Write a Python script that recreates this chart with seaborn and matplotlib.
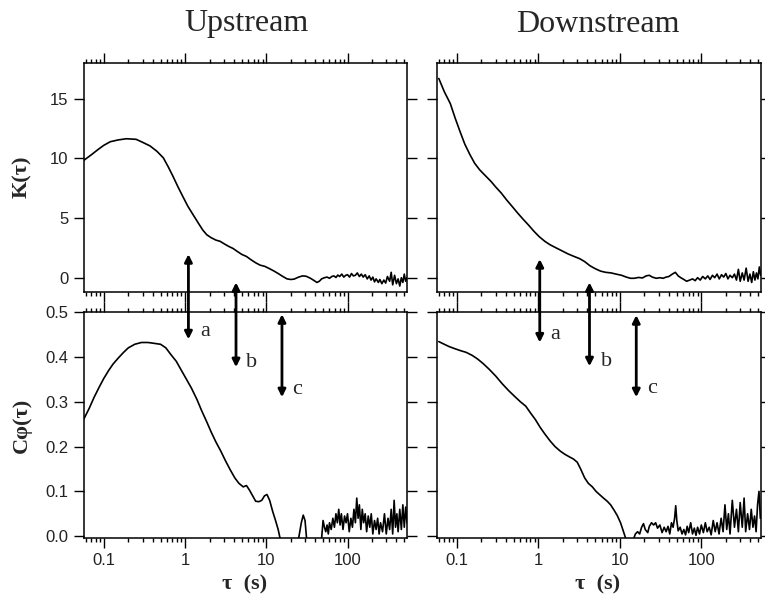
import numpy as np
import pandas as pd
import matplotlib
matplotlib.use("Agg")
import matplotlib.pyplot as plt
import matplotlib.ticker as mticker
import seaborn as sns

# ---------------- data ----------------
tau_K_up = [0.057, 0.07, 0.085, 0.10, 0.12, 0.15, 0.19, 0.25, 0.30, 0.37, 0.45, 0.54, 0.62, 0.71,
            0.82, 0.94, 1.08, 1.25, 1.45, 1.65, 1.85, 2.1, 2.4, 2.7, 3.1, 3.5, 3.9, 4.4, 5.0, 5.7,
            6.5, 7.4, 8.4, 9.6, 11, 12.5, 14, 16, 18, 20, 22, 25, 28, 31, 35, 39, 42, 45, 48, 52,
            56, 60, 64, 68, 72, 76, 80, 85, 90, 95, 100, 106, 112, 118, 125, 132, 140, 148, 156,
            165, 175, 185, 195, 205, 215, 225, 240, 250, 265, 280, 295, 310, 330, 345, 360, 380,
            400, 420, 440, 460, 480, 500, 520, 540]
K_up = [9.85, 10.3, 10.75, 11.1, 11.4, 11.55, 11.65, 11.6, 11.35, 11.05, 10.6, 10.05, 9.3, 8.5,
        7.6, 6.8, 6.0, 5.3, 4.6, 4.0, 3.6, 3.35, 3.15, 3.05, 2.8, 2.6, 2.45, 2.2, 1.95, 1.78,
        1.5, 1.25, 1.05, 0.95, 0.75, 0.55, 0.35, 0.1, -0.1, -0.15, -0.12, 0.05, 0.15, 0.12, -0.05,
        -0.25, -0.4, -0.3, -0.1, 0.0, 0.05, -0.05, 0.1, 0.15, 0.02, 0.22, 0.1, 0.3, 0.05, 0.2,
        0.25, 0.05, 0.35, 0.15, 0.2, 0.4, 0.1, 0.3, 0.05, 0.25, -0.1, 0.15, -0.2, 0.05, -0.35,
        -0.1, -0.4, -0.15, -0.5, -0.2, -0.45, 0.1, -0.3, 0.45, -0.6, 0.2, -0.5, -0.1, -0.7, 0.0,
        -0.4, 0.3, -0.3, 0.0]

tau_K_down = [0.060, 0.07, 0.083, 0.095, 0.11, 0.125, 0.145, 0.165, 0.19, 0.22, 0.26, 0.30, 0.35,
              0.41, 0.48, 0.56, 0.65, 0.76, 0.88, 1.02, 1.2, 1.4, 1.65, 1.95, 2.3, 2.7, 3.2, 3.7,
              4.3, 5.0, 5.8, 6.7, 7.8, 9.0, 10.5, 12, 13.5, 15, 17, 19, 21, 23, 25, 28, 31, 34, 37,
              40, 44, 48, 52, 56, 61, 66, 72, 78, 84, 90, 97, 104, 112, 120, 128, 137, 146, 156,
              166, 177, 188, 200, 212, 225, 240, 255, 270, 285, 300, 318, 335, 355, 375, 395, 415,
              435, 455, 475, 495, 515, 535]
K_down = [16.7, 15.6, 14.6, 13.4, 12.2, 11.2, 10.3, 9.6, 9.05, 8.6, 8.1, 7.6, 7.1,
          6.5, 5.95, 5.4, 4.9, 4.4, 3.9, 3.45, 3.05, 2.75, 2.5, 2.25, 2.0, 1.8, 1.6, 1.35,
          1.0, 0.75, 0.55, 0.45, 0.4, 0.3, 0.2, 0.05, -0.05, -0.05, 0.02, -0.02, 0.15, 0.2, 0.05,
          -0.05, 0.0, -0.05, 0.05, 0.1, 0.3, 0.45, 0.15, 0.0, -0.15, -0.3, -0.2, -0.1, -0.25, 0.0,
          -0.2, 0.1, -0.1, 0.15, -0.15, 0.2, 0.0, 0.3, -0.1, 0.25, 0.05, 0.35, -0.1, 0.2, 0.0,
          0.3, -0.2, 0.7, -0.3, 0.4, -0.2, 0.8, -0.3, 0.3, -0.4, 0.5, -0.2, 0.4, -0.1, 0.9, 0.2]

tau_C_up = [0.057, 0.066, 0.076, 0.088, 0.10, 0.115, 0.13, 0.15, 0.175, 0.20, 0.24, 0.29, 0.35,
            0.42, 0.50, 0.58, 0.67, 0.78, 0.9, 1.04, 1.2, 1.4, 1.6, 1.85, 2.1, 2.4, 2.75, 3.15,
            3.6, 4.1, 4.6, 5.2, 5.7, 6.2, 6.8, 7.4, 8.1, 8.8, 9.5, 10.2, 11, 12, 13, 14, 15, 18,
            22, 25, 27, 28.5, 30, 31.5, 35, 42, 48, 50, 52, 54, 56, 58, 60, 63, 66, 69, 72, 75,
            78, 81, 84, 88, 92, 96, 100, 105, 110, 115, 120, 125, 130, 135, 140, 146, 152, 158,
            165, 172, 180, 188, 196, 205, 215, 225, 235, 245, 255, 270, 285, 300, 315, 330, 345,
            360, 375, 390, 405, 420, 440, 460, 480, 500, 520, 540]
C_up = [0.262, 0.285, 0.31, 0.333, 0.352, 0.37, 0.384, 0.397, 0.41, 0.42, 0.428, 0.432, 0.432,
        0.43, 0.428, 0.42, 0.405, 0.39, 0.37, 0.35, 0.33, 0.305, 0.28, 0.255, 0.232, 0.21, 0.19,
        0.168, 0.148, 0.13, 0.118, 0.11, 0.113, 0.103, 0.09, 0.078, 0.077, 0.08, 0.09, 0.093,
        0.08, 0.055, 0.035, 0.015, -0.01, -0.04, -0.03, -0.005, 0.03, 0.047, 0.035, -0.01, -0.04,
        -0.03, -0.005, 0.035, 0.02, 0.01, 0.025, 0.005, 0.03, 0.015, 0.04, 0.02, 0.05, 0.03,
        0.06, 0.025, 0.05, 0.015, 0.045, 0.03, 0.05, 0.01, 0.04, 0.02, 0.06, 0.03, 0.085, 0.04,
        0.07, 0.015, 0.06, 0.03, 0.05, 0.01, 0.045, 0.02, 0.05, 0.005, 0.035, 0.015, 0.04, 0.005,
        0.03, 0.01, 0.05, 0.005, 0.04, 0.015, 0.06, 0.005, 0.08, 0.02, 0.05, 0.01, 0.06, 0.015,
        0.07, 0.02, 0.065, 0.03]

tau_C_down = [0.060, 0.07, 0.08, 0.095, 0.11, 0.13, 0.155, 0.18, 0.21, 0.25, 0.30, 0.36, 0.43,
              0.51, 0.60, 0.70, 0.8, 0.92, 1.05, 1.2, 1.4, 1.6, 1.85, 2.1, 2.4, 2.7, 3.0, 3.3,
              3.7, 4.1, 4.6, 5.1, 5.7, 6.3, 7.0, 7.7, 8.5, 9.3, 10.2, 11.0, 11.8, 13, 14.5, 15.5,
              16.5, 17.5, 18.5, 19.5, 20.5, 22, 23, 24.5, 26, 27.5, 29, 31, 33, 35, 37, 39, 41,
              43, 45, 47, 48.5, 50, 52, 55, 58, 61, 64, 67, 70, 74, 78, 82, 86, 90, 95, 100, 106,
              112, 118, 125, 132, 140, 148, 156, 165, 175, 185, 195, 205, 215, 225, 240, 255,
              270, 285, 300, 318, 335, 350, 370, 390, 410, 430, 450, 470, 490, 510, 530]
C_down = [0.434, 0.428, 0.423, 0.418, 0.414, 0.41, 0.403, 0.395, 0.385, 0.372, 0.357, 0.34, 0.325,
          0.312, 0.3, 0.29, 0.275, 0.26, 0.243, 0.228, 0.212, 0.2, 0.19, 0.183, 0.177, 0.172,
          0.165, 0.15, 0.13, 0.118, 0.11, 0.1, 0.092, 0.085, 0.078, 0.07, 0.058, 0.046, 0.03,
          0.012, -0.005, -0.03, -0.01, 0.005, 0.01, 0.005, 0.02, 0.028, 0.015, 0.008, 0.022,
          0.03, 0.025, 0.03, 0.018, 0.025, 0.008, 0.02, 0.01, 0.022, 0.005, 0.03, 0.02, 0.04,
          0.068, 0.035, 0.012, 0.02, 0.005, 0.015, 0.003, 0.022, 0.008, 0.03, 0.005, 0.018,
          0.002, 0.02, 0.005, 0.025, 0.008, 0.03, 0.01, 0.02, 0.003, 0.035, 0.01, 0.03, 0.005,
          0.04, 0.01, 0.07, 0.015, 0.05, 0.005, 0.08, 0.02, 0.06, 0.01, 0.075, 0.02, 0.085, 0.01,
          0.05, 0.015, 0.06, 0.02, 0.045, 0.01, 0.07, 0.1, 0.04]

panel_titles = ["Upstream", "Downstream"]
x_tick_values = [0.1, 1, 10, 100]
x_tick_labels = ["0.1", "1", "10", "100"]
K_ticks = [0, 5, 10, 15]
C_ticks = [0.0, 0.1, 0.2, 0.3, 0.4, 0.5]
C_tick_labels = ["0.0", "0.1", "0.2", "0.3", "0.4", "0.5"]

arrow_labels = ["a", "b", "c"]
arrow_x_up = [1.1, 4.24, 15.6]
arrow_top_up = [0.629, 0.566, 0.495]
arrow_bot_up = [0.439, 0.377, 0.310]
label_x_up = [1.75, 6.6, 24.0]
label_y_up = [0.457, 0.387, 0.327]
arrow_x_down = [1.04, 4.24, 15.9]
arrow_top_down = [0.618, 0.566, 0.493]
arrow_bot_down = [0.432, 0.379, 0.310]
label_x_down = [1.62, 6.8, 24.9]
label_y_down = [0.450, 0.390, 0.329]

# ---------------- style ----------------
sns.set_style("ticks")
plt.rcParams['font.family'] = ['Liberation Sans', 'DejaVu Sans']
SERIF = ['Liberation Serif', 'DejaVu Serif']

W, H = 765, 595
fig = plt.figure(figsize=(W / 100, H / 100), dpi=100)
fig.patch.set_facecolor("white")


def frac(x0, y0, x1, y1):
    return [x0 / W, 1 - y1 / H, (x1 - x0) / W, (y1 - y0) / H]


ax_tl = fig.add_axes(frac(84, 63, 407, 292))
ax_tr = fig.add_axes(frac(437, 63, 761, 292))
ax_bl = fig.add_axes(frac(84, 312, 407, 538))
ax_br = fig.add_axes(frac(437, 312, 761, 538))

curves = [
    (ax_tl, tau_K_up, K_up),
    (ax_tr, tau_K_down, K_down),
    (ax_bl, tau_C_up, C_up),
    (ax_br, tau_C_down, C_down),
]
for ax, xs, ys in curves:
    df = pd.DataFrame({"tau": xs, "val": ys})
    sns.lineplot(data=df, x="tau", y="val", ax=ax, color="black", lw=1.2,
                 estimator=None, sort=False)

for ax in [ax_tl, ax_tr, ax_bl, ax_br]:
    ax.set_xscale("log")
    ax.set_xlim(0.057, 540)
    ax.patch.set_alpha(0)
    ax.set_xlabel("")
    ax.set_ylabel("")
    for s in ax.spines.values():
        s.set_visible(True)
        s.set_linewidth(1.1)
        s.set_color("black")
    ax.tick_params(which="both", direction="out", top=True, right=True, bottom=True,
                   left=True, color="black", width=1.0, labelsize=12, labelcolor="#222222",
                   pad=4)
    ax.tick_params(which="major", length=7)
    ax.tick_params(which="minor", length=3)
    ax.xaxis.set_major_locator(mticker.FixedLocator(x_tick_values))
    ax.xaxis.set_minor_locator(mticker.LogLocator(base=10, subs=np.arange(2, 10), numticks=20))
    ax.xaxis.set_minor_formatter(mticker.NullFormatter())

for ax in [ax_tl, ax_tr]:
    ax.set_ylim(-1.2, 18)
    ax.set_yticks(K_ticks)
    ax.tick_params(labelbottom=False)
for ax in [ax_bl, ax_br]:
    ax.set_ylim(-0.004, 0.5)
    ax.set_yticks(C_ticks)
    ax.set_xticks(x_tick_values)
    ax.set_xticklabels(x_tick_labels)
ax_bl.set_yticklabels(C_tick_labels)
ax_tr.tick_params(labelleft=False)
ax_br.tick_params(labelleft=False)

# titles and labels
fig.text(246 / W, 1 - 24 / H, panel_titles[0], family=SERIF, fontsize=23,
         ha="center", va="center")
fig.text(598 / W, 1 - 24 / H, panel_titles[1], family=SERIF, fontsize=23,
         ha="center", va="center")
fig.text(22 / W, 1 - 177 / H, "K(τ)", family=SERIF, fontsize=16, fontweight="bold",
         rotation=90, ha="center", va="center")
fig.text(22 / W, 1 - 425 / H, "Cφ(τ)", family=SERIF, fontsize=16, fontweight="bold",
         rotation=90, ha="center", va="center")
fig.text(245 / W, 1 - 584 / H, "τ  (s)", family=SERIF, fontsize=16, fontweight="bold",
         ha="center", va="center")
fig.text(598 / W, 1 - 584 / H, "τ  (s)", family=SERIF, fontsize=16, fontweight="bold",
         ha="center", va="center")

# arrows
for ax, ax_, at, ab, lx, ly in [
    (ax_bl, arrow_x_up, arrow_top_up, arrow_bot_up, label_x_up, label_y_up),
    (ax_br, arrow_x_down, arrow_top_down, arrow_bot_down, label_x_down, label_y_down),
]:
    for i in range(3):
        ax.annotate("", xy=(ax_[i], ab[i]), xytext=(ax_[i], at[i]), xycoords="data",
                    arrowprops=dict(arrowstyle="<|-|>", lw=2, color="black",
                                    mutation_scale=11, shrinkA=0, shrinkB=0),
                    annotation_clip=False, zorder=10)
        ax.text(lx[i], ly[i], arrow_labels[i], family=SERIF, fontsize=16,
                ha="center", va="center", clip_on=False)

fig.savefig("out.png", dpi=100, facecolor="white")
